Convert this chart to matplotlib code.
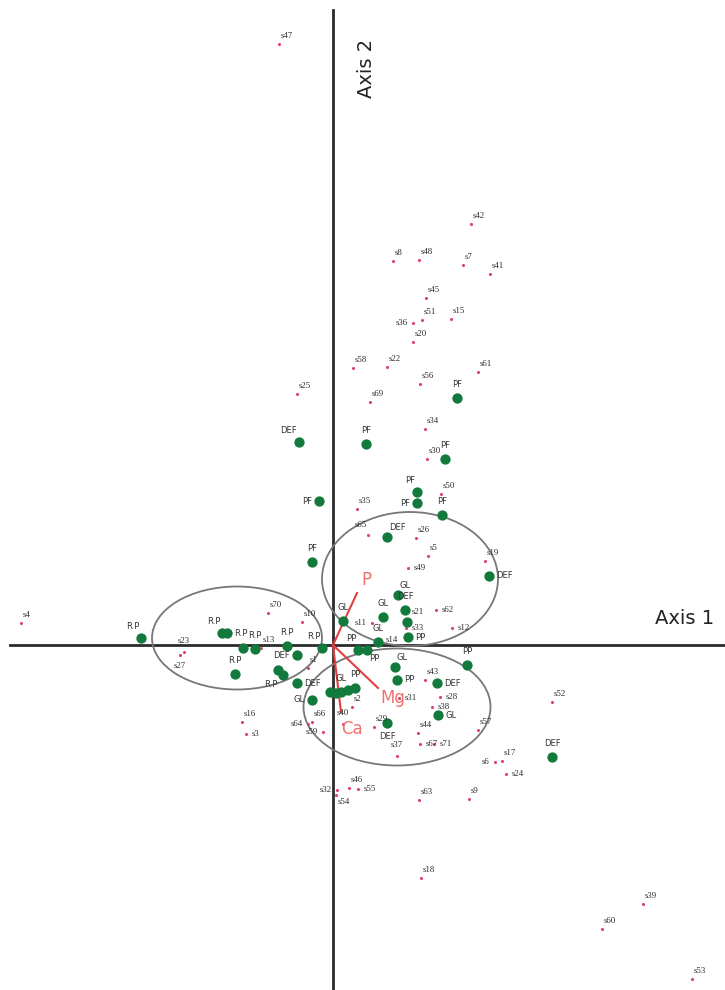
import matplotlib.pyplot as plt
from matplotlib.patches import Ellipse

# site scores (red)
site_names = ["s47", "s42", "s8", "s48", "s7", "s41", "s45", "s51", "s15", "s36",
              "s20", "s58", "s22", "s56", "s61", "s25", "s69", "s34", "s30", "s50",
              "s35", "s65", "s26", "s5", "s49", "s19", "s62", "s12", "s21", "s33",
              "s11", "s14", "s10", "s70", "s4", "s23", "s27", "s13", "s1", "s16",
              "s3", "s64", "s66", "s59", "s40", "s29", "s2", "s31", "s43", "s28",
              "s38", "s57", "s44", "s67", "s71", "s37", "s6", "s17", "s24", "s52",
              "s32", "s46", "s55", "s54", "s63", "s9", "s18", "s39", "s60", "s53"]
site_x = [-0.54, 1.38, 0.60, 0.86, 1.30, 1.57, 0.93, 0.89, 1.18, 0.80,
          0.80, 0.20, 0.54, 0.87, 1.45, -0.36, 0.37, 0.92, 0.94, 1.08,
          0.24, 0.35, 0.83, 0.95, 0.75, 1.52, 1.03, 1.19, 0.73, 0.73,
          0.39, 0.47, -0.31, -0.65, -3.12, -1.49, -1.53, -0.72, -0.25, -0.91,
          -0.87, -0.25, -0.21, -0.10, 0.10, 0.41, 0.19, 0.66, 0.92, 1.07,
          0.99, 1.45, 0.85, 0.87, 1.01, 0.64, 1.62, 1.69, 1.73, 2.19,
          0.04, 0.16, 0.25, 0.03, 0.86, 1.36, 0.88, 3.10, 2.69, 3.59]
site_y = [6.01, 4.21, 3.84, 3.85, 3.80, 3.71, 3.47, 3.25, 3.26, 3.22,
          3.03, 2.77, 2.78, 2.61, 2.73, 2.51, 2.43, 2.16, 1.86, 1.51,
          1.36, 1.10, 1.07, 0.89, 0.77, 0.84, 0.35, 0.17, 0.33, 0.17,
          0.22, 0.05, 0.23, 0.32, 0.22, -0.07, -0.10, -0.03, -0.23, -0.77,
          -0.89, -0.79, -0.77, -0.87, -0.79, -0.82, -0.62, -0.53, -0.35, -0.52,
          -0.62, -0.85, -0.88, -0.99, -0.99, -1.11, -1.17, -1.16, -1.29, -0.57,
          -1.45, -1.43, -1.44, -1.50, -1.55, -1.54, -2.33, -2.59, -2.84, -3.34]
site_side = ["ne", "ne", "ne", "ne", "ne", "ne", "ne", "ne", "ne", "w",
             "ne", "ne", "ne", "ne", "ne", "ne", "ne", "ne", "ne", "ne",
             "ne", "nw", "ne", "ne", "e", "ne", "e", "e", "e", "e",
             "w", "e", "ne", "ne", "ne", "n", "s", "ne", "ne", "ne",
             "e", "w", "ne", "w", "n", "ne", "ne", "e", "ne", "e",
             "e", "ne", "ne", "e", "e", "n", "w", "ne", "e", "ne",
             "w", "ne", "e", "se", "ne", "ne", "ne", "ne", "ne", "ne"]

# group scores (green)
grp_labels = ["PF", "DEF", "PF", "PF", "PF", "PF", "PF", "PF", "DEF", "PF",
              "GL", "DEF", "GL", "", "PP", "GL", "GL", "PP", "PP", "R.P",
              "GL", "PP", "DEF", "DEF", "", "", "GL", "", "PP",
              "GL", "DEF", "GL", "PP", "DEF", "DEF",
              "R.P", "R.P", "R.P", "", "R.P", "R.P", "R.P", "DEF", "", "R.P"]
grp_x = [1.24, -0.34, 0.33, 1.12, 0.84, 0.84, 1.09, -0.14, 0.54, -0.21,
         0.65, 0.72, 0.50, 0.74, 0.75, 0.45, 0.10, 0.25, 0.34, -0.11,
         0.62, 0.64, 1.04, -0.36, -0.03, 0.03, 0.08, 0.15, 0.22,
         -0.21, 0.54, 1.05, 1.34, 1.56, 2.19,
         -1.92, -1.11, -1.06, -0.90, -0.78, -0.98, -0.46, -0.36, -0.55, -0.50]
grp_y = [2.47, 2.03, 2.01, 1.86, 1.53, 1.42, 1.30, 1.44, 1.08, 0.83,
         0.50, 0.35, 0.28, 0.23, 0.08, 0.03, 0.24, -0.05, -0.05, -0.03,
         -0.22, -0.35, -0.38, -0.38, -0.47, -0.48, -0.47, -0.45, -0.43,
         -0.55, -0.78, -0.70, -0.20, 0.69, -1.12,
         0.07, 0.12, 0.12, -0.03, -0.04, -0.29, -0.01, -0.10, -0.25, -0.30]
grp_side = ["n", "nw", "n", "n", "nw", "w", "n", "w", "ne", "n",
            "ne", "n", "n", "n", "e", "n", "n", "nw", "se", "nw",
            "ne", "e", "e", "e", "n", "n", "n", "n", "n",
            "w", "s", "e", "n", "e", "n",
            "nw", "nw", "e", "n", "n", "n", "n", "w", "n", "sw"]

# environmental vectors
vec_names = ["P", "Mg", "Ca"]
vec_x = [0.24, 0.45, 0.08]
vec_y = [0.52, -0.43, -0.67]

# confidence ellipses: centre x, centre y, width, height
ell_cx = [0.77, -0.96, 0.64]
ell_cy = [0.66, 0.07, -0.62]
ell_w = [1.76, 1.70, 1.87]
ell_h = [1.34, 1.03, 1.17]

OFFSETS = {
    "n": ((0, 5), "center", "bottom"),
    "ne": ((1, 3), "left", "bottom"),
    "nw": ((-1, 4), "right", "bottom"),
    "e": ((4, 0), "left", "center"),
    "w": ((-4, 0), "right", "center"),
    "s": ((0, -5), "center", "top"),
    "se": ((1, -2), "left", "top"),
    "sw": ((-3, -3), "right", "top"),
}

fig = plt.figure(figsize=(7.25, 9.9), dpi=100)
ax = fig.add_axes([0, 0, 1, 1])
ax.set_xlim(-3.33, 3.92)
ax.set_ylim(-3.45, 6.45)
ax.axis("off")

ax.plot([-3.23, 3.92], [0, 0], color="#2b2b2b", lw=2, zorder=1)
ax.plot([0, 0], [-3.45, 6.35], color="#2b2b2b", lw=2, zorder=1)
ax.text(3.22, 0.27, "Axis 1", fontsize=14, color="#222222", ha="left", va="center")
ax.text(0.33, 5.77, "Axis 2", fontsize=14, color="#222222", rotation=90,
        ha="center", va="center")

for cx, cy, w, h in zip(ell_cx, ell_cy, ell_w, ell_h):
    ax.add_patch(Ellipse((cx, cy), w, h, fill=False, edgecolor="#777777", lw=1.3, zorder=2))

ax.scatter(site_x, site_y, s=5, color="#e0407a", zorder=3, linewidths=0)
for name, x, y, side in zip(site_names, site_x, site_y, site_side):
    off, ha, va = OFFSETS[side]
    ax.annotate(name, (x, y), xytext=off, textcoords="offset points", ha=ha, va=va,
                fontsize=6.3, family="Liberation Serif", color="#2a2a2a", zorder=5)

ax.scatter(grp_x, grp_y, s=55, color="#127a3c", zorder=4, linewidths=0)
for lab, x, y, side in zip(grp_labels, grp_x, grp_y, grp_side):
    if not lab:
        continue
    off, ha, va = OFFSETS[side]
    off = (off[0] * 1.3, off[1] * 1.3)
    ax.annotate(lab, (x, y), xytext=off, textcoords="offset points", ha=ha, va=va,
                fontsize=6, color="#333333", zorder=5)

for name, x, y in zip(vec_names, vec_x, vec_y):
    ax.plot([0, x], [0, y], color="#e04040", lw=1.5, zorder=3)
    if y > 0:
        off, va = (3, 3), "bottom"
    elif x > 0.2:
        off, va = (2, -1), "top"
    else:
        off, va = (0, -6), "top"
    ax.annotate(name, (x, y), xytext=off, textcoords="offset points", ha="left", va=va,
                fontsize=12, color="#f07070", zorder=6)

fig.savefig("out.png", dpi=100, facecolor="white")
